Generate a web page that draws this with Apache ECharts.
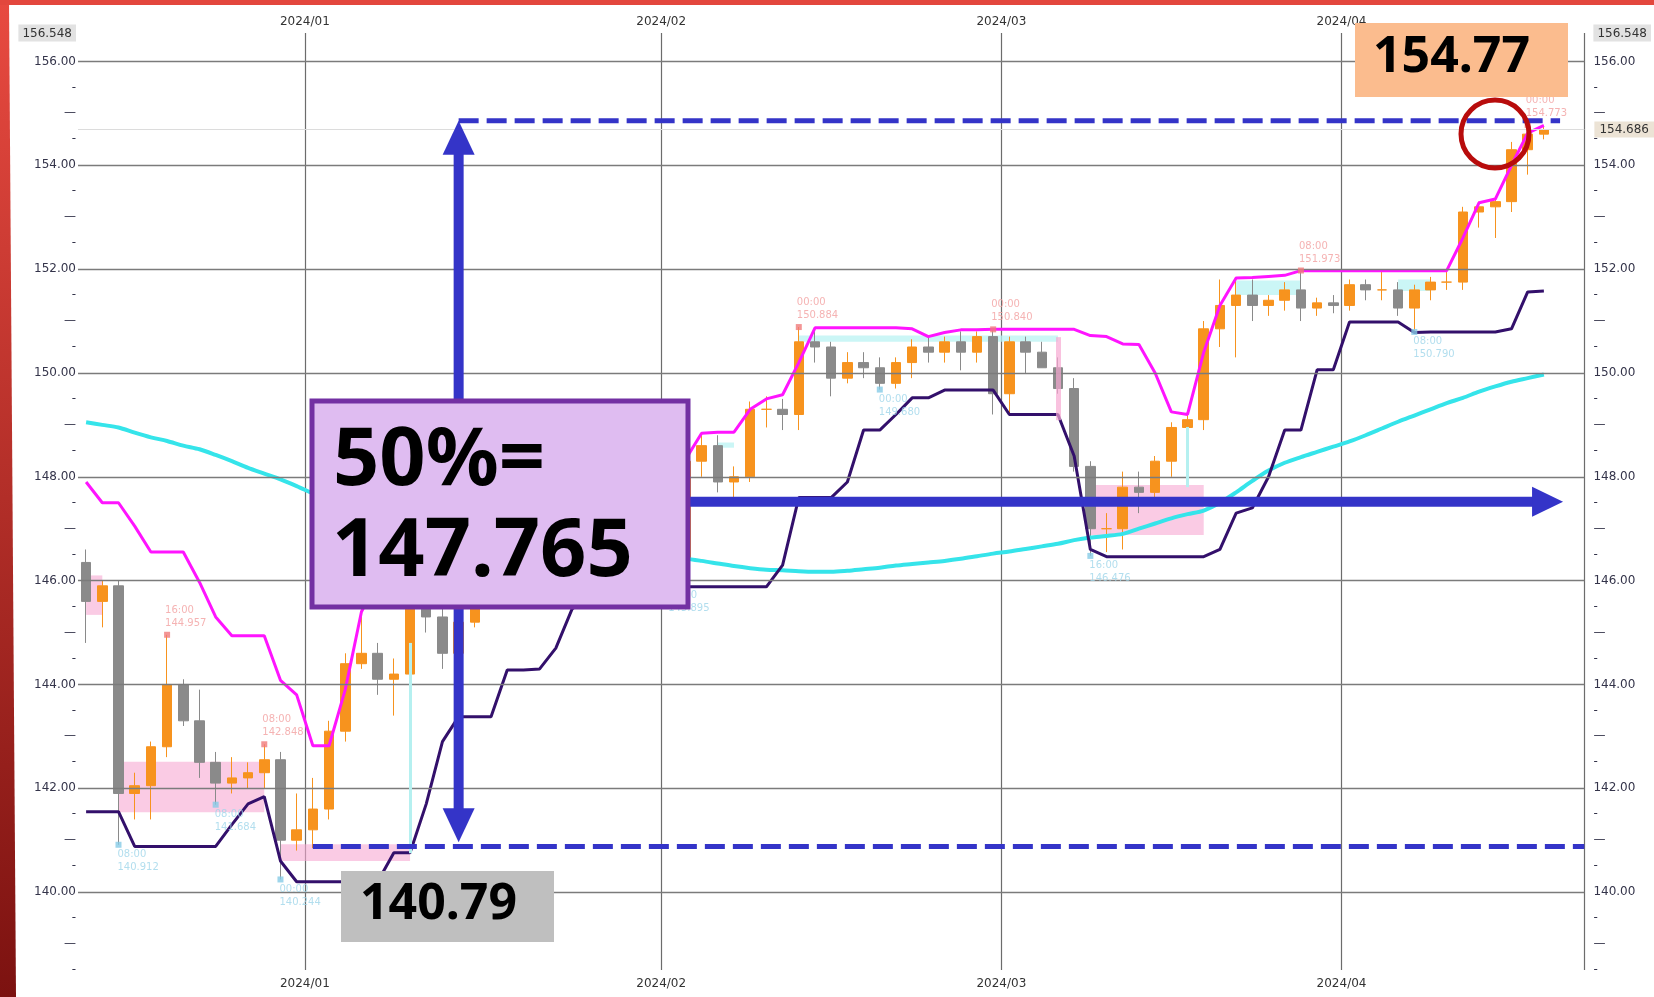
<!DOCTYPE html>
<html>
<head>
<meta charset="utf-8">
<script src="https://cdn.jsdelivr.net/npm/echarts/dist/echarts.min.js"></script>
</head>
<body style="margin:0;background:#fff">
<div id="container" style="width:1654px;height:997px"></div>
<script>
// trading days on the x axis (weekdays, holidays left out)
var decDays = [11,12,13,14,15,18,19,20,21,22,26,27,28,29];
var janDays = [2,3,4,5,8,9,10,11,12,15,16,17,18,19,22,23,24,25,26,29,30,31];
var febDays = [1,2,5,6,7,8,9,12,13,14,15,16,19,20,21,22,23,26,27,28,29];
var marDays = [1,4,5,6,7,8,11,12,13,14,15,18,19,20,21,22,25,26,27,28,29];
var aprDays = [1,2,3,4,5,8,9,10,11,12,15,16,17,18,19];

// daily prices
var opens = [146.35,145.6,145.9,141.9,142.05,142.8,144.0,143.3,142.5,142.1, 142.2,142.3,142.55,141.0,141.2,141.6,143.1,144.4,144.6,144.1, 144.2,145.5,145.3,144.6,145.2,147.2,148.1,148.0,148.2,148.1, 148.4,147.5,147.7,148.1,147.5,147.6,146.9,146.4,148.3,148.6, 147.9,148.0,149.3,149.3,149.2,150.6,150.5,149.9,150.2,150.1, 149.8,150.2,150.5,150.4,150.6,150.4,150.7,149.6,150.6,150.4, 150.1,149.7,148.2,147.0,147.0,147.8,147.7,148.3,148.95,149.1, 150.85,151.3,151.5,151.3,151.4,151.6,151.25,151.35,151.3,151.7, 151.6,151.6,151.25,151.6,151.75,151.75,153.1,153.2,153.3,154.3, 154.6];
var highs = [146.6,146.0,146.0,142.3,142.9,144.957,144.1,143.9,142.7,142.6, 142.5,142.848,142.7,141.9,142.2,143.3,144.6,145.95,144.8,144.5, 145.6,146.2,145.7,145.4,147.3,148.2,148.3,148.8,148.4,148.7, 148.7,147.9,148.2,148.3,147.9,147.9,147.0,148.35,148.85,148.8, 148.2,149.45,149.55,149.5,150.884,150.82,150.6,150.4,150.4,150.3, 150.3,150.65,150.7,150.7,150.8,150.8,150.84,150.7,150.7,150.6, 150.3,149.9,148.3,147.3,148.1,148.1,148.4,149.05,149.2,151.0, 151.8,151.85,151.8,151.5,151.75,151.973,151.45,151.5,151.8,151.8, 151.95,151.75,151.7,151.85,151.95,153.2,153.3,153.35,154.45,154.773, 154.75];
var lows = [144.8,145.1,140.912,141.4,141.4,142.6,143.2,142.2,141.684,141.9, 142.0,142.0,140.244,140.8,140.85,141.4,142.9,144.3,143.8,143.4, 143.9,145.0,144.3,144.4,145.1,147.0,147.6,147.8,147.6,147.0, 147.4,147.1,147.5,147.1,147.2,146.0,145.895,146.3,148.0,147.7, 147.6,147.9,148.95,148.9,148.9,150.2,149.55,149.8,149.9,149.68, 149.7,149.9,150.2,150.2,150.05,150.2,149.2,149.2,150.0,150.1, 149.6,148.1,146.476,146.55,146.6,147.3,147.5,148.0,148.9,148.9, 150.5,150.3,151.0,151.1,151.2,151.0,151.1,151.15,151.2,151.4, 151.4,151.1,150.79,151.4,151.6,151.6,152.8,152.6,153.1,153.82, 154.5];
var closes = [145.6,145.9,141.9,142.05,142.8,144.0,143.3,142.5,142.1,142.2, 142.3,142.55,141.0,141.2,141.6,143.1,144.4,144.6,144.1,144.2, 145.5,145.3,144.6,145.2,147.2,148.1,148.0,148.2,148.1,148.4, 147.5,147.7,148.1,147.5,147.6,146.9,146.4,148.3,148.6,147.9, 148.0,149.3,149.3,149.2,150.6,150.5,149.9,150.2,150.1,149.8, 150.2,150.5,150.4,150.6,150.4,150.7,149.6,150.6,150.4,150.1, 149.7,148.2,147.0,147.0,147.8,147.7,148.3,148.95,149.1,150.85, 151.3,151.5,151.3,151.4,151.6,151.25,151.35,151.3,151.7,151.6, 151.6,151.25,151.6,151.75,151.75,153.1,153.2,153.3,154.3,154.6, 154.686];

// indicator lines
var upperBand = [147.9,147.5,147.5,147.05,146.55,146.55,146.55,145.97,145.3,144.94, 144.94,144.94,144.08,143.8,142.82,142.82,143.9,145.4,146.0,146.0, 146.0,146.4,146.4,146.4,147.3,148.2,148.3,148.8,148.8,148.8, 148.8,148.8,148.6,148.4,148.3,148.2,148.2,148.33,148.84,148.86, 148.86,149.3,149.5,149.58,150.2,150.87,150.87,150.87,150.87,150.87, 150.87,150.85,150.7,150.78,150.83,150.83,150.84,150.84,150.84,150.84, 150.84,150.84,150.72,150.7,150.56,150.55,150.0,149.25,149.2,150.4, 151.3,151.83,151.84,151.86,151.88,151.97,151.97,151.97,151.97,151.97, 151.97,151.97,151.97,151.97,151.97,152.6,153.28,153.35,154.0,154.62, 154.77];
var lowerBand = [141.55,141.55,141.55,140.88,140.88,140.88,140.88,140.88,140.88,141.3, 141.7,141.84,140.6,140.2,140.2,140.2,140.2,140.2,140.2,140.76, 140.76,141.7,142.9,143.38,143.38,143.38,144.28,144.28,144.3,144.7, 145.45,145.7,145.88,145.88,145.88,145.88,145.88,145.88,145.88,145.88, 145.88,145.88,145.88,146.3,147.6,147.6,147.6,147.9,148.9,148.9, 149.2,149.52,149.52,149.67,149.67,149.67,149.67,149.2,149.2,149.2, 149.2,148.4,146.6,146.46,146.46,146.46,146.46,146.46,146.46,146.46, 146.6,147.3,147.4,148.0,148.9,148.9,150.06,150.06,150.98,150.98, 150.98,150.98,150.78,150.79,150.79,150.79,150.79,150.79,150.85,151.56, 151.58];
var movingAvg = [149.05,149.0,148.95,148.85,148.76,148.69,148.6,148.53,148.42,148.3, 148.17,148.06,147.95,147.82,147.68,147.55,147.42,147.3,147.2,147.1, 147.0,146.92,146.85,146.78,146.72,146.67,146.63,146.6,146.57,146.54, 146.52,146.5,146.48,146.46,146.45,146.44,146.43,146.42,146.38,146.33, 146.28,146.24,146.21,146.2,146.18,146.17,146.17,146.19,146.22,146.25, 146.29,146.32,146.35,146.38,146.42,146.47,146.52,146.56,146.61,146.66, 146.71,146.78,146.83,146.86,146.9,147.0,147.1,147.2,147.28,147.35, 147.5,147.7,147.92,148.12,148.27,148.38,148.48,148.58,148.68,148.8, 148.93,149.06,149.18,149.3,149.42,149.52,149.64,149.74,149.83,149.9, 149.97];

// marked highs and lows (category index, price, time)
var peakIdx = [5, 11, 44, 56, 75, 89];
var peakVal = [144.957, 142.848, 150.884, 150.840, 151.973, 154.773];
var peakTime = ['16:00','08:00','00:00','00:00','08:00','00:00'];
var troughIdx = [2, 8, 12, 36, 49, 62, 82];
var troughVal = [140.912, 141.684, 140.244, 145.895, 149.680, 146.476, 150.790];
var troughTime = ['08:00','08:00','00:00','00:00','00:00','16:00','08:00'];

// shaded boxes [from, to, top, bottom]
var pinkZones = [[0,1,146.1,145.34],[2,11,142.51,141.54],[12,20,140.92,140.6],[62,69,147.84,146.88]];
var cyanZones = [[44,60,150.72,150.6],[39,40,148.66,148.56],[71,75,151.78,151.5],[81,83,151.8,151.58]];
var cyanTicks = [[20,144.8,140.75],[68,148.96,147.8]];
var pinkTicks = [[60,150.69,149.09]];

var gridLevels = [140,142,144,146,148,150,152,154,156];
var axisMin = 138.5, axisMax = 156.548;
var lastPrice = 154.686;

// annotation levels
var highText = '154.77', lowText = '140.79', midText = '147.765';
var highLine = 154.86, lowLine = 140.88, lowArrowTip = 140.96, midArrow = 147.52;
var arrowCol = 23, lowDashFrom = 14, dashTo = 91, midArrowFrom = 30, midArrowTo = 91;

function pad(d) { return d < 10 ? '0' + d : '' + d; }
var cats = [];
decDays.forEach(function (d) { cats.push('2023/12/' + pad(d)); });
janDays.forEach(function (d) { cats.push('2024/01/' + pad(d)); });
febDays.forEach(function (d) { cats.push('2024/02/' + pad(d)); });
marDays.forEach(function (d) { cats.push('2024/03/' + pad(d)); });
aprDays.forEach(function (d) { cats.push('2024/04/' + pad(d)); });

function isMonthStart(i) {
    return i > 0 && cats[i].slice(5, 7) !== cats[i - 1].slice(5, 7);
}

var candles = opens.map(function (o, i) { return [o, closes[i], lows[i], highs[i]]; });

function yLabel(v) {
    if (v > 156.5) return '{max|' + v.toFixed(3) + '}';
    if (Math.abs(v - 156.5) < 1e-6) return '';
    var r = Math.round(v);
    if (Math.abs(v - r) < 1e-6) return (r % 2 === 0) ? v.toFixed(2) : '—';
    return '-';
}
var yLabelStyle = {
    formatter: yLabel, color: '#34344a', fontSize: 12, fontFamily: 'DejaVu Sans',
    rich: { max: { backgroundColor: '#e2e2e2', padding: [3, 4, 2, 4], color: '#333', fontSize: 12, fontFamily: 'DejaVu Sans' } }
};

var xAxisBase = {
    type: 'category', data: cats, boundaryGap: true,
    axisLine: { show: false }, axisTick: { show: false },
    axisLabel: {
        interval: function (i) { return isMonthStart(i); },
        formatter: function (v) { return v.slice(0, 7); },
        color: '#333', fontSize: 12, fontFamily: 'DejaVu Sans', padding: [0, 16, 0, 0]
    }
};

var dom = document.getElementById('container');
var chart = echarts.init(dom);

var option = {
    animation: false,
    backgroundColor: '#ffffff',
    grid: { left: 78, right: 65, top: 33, bottom: 27 },
    xAxis: [
        Object.assign({}, xAxisBase, {
            position: 'bottom',
            axisLabel: Object.assign({}, xAxisBase.axisLabel, { margin: 8 }),
            splitLine: { show: true, interval: function (i) { return isMonthStart(i); }, lineStyle: { color: '#6c6c6c', width: 1.2 } }
        }),
        Object.assign({}, xAxisBase, {
            position: 'top',
            axisLabel: Object.assign({}, xAxisBase.axisLabel, { margin: 5 }),
            splitLine: { show: false }
        })
    ],
    yAxis: [
        { type: 'value', position: 'left', min: axisMin, max: axisMax, interval: 0.5,
          axisLine: { show: false }, axisTick: { show: false }, splitLine: { show: false },
          axisLabel: Object.assign({ margin: 2 }, yLabelStyle) },
        { type: 'value', position: 'right', min: axisMin, max: axisMax, interval: 0.5,
          axisLine: { show: false }, axisTick: { show: false }, splitLine: { show: false },
          axisLabel: Object.assign({ margin: 9 }, yLabelStyle) }
    ],
    series: [
        {
            name: 'grid', type: 'line', data: [], z: 1, silent: true,
            markLine: {
                silent: true, symbol: 'none', label: { show: false },
                lineStyle: { color: '#7b7b7b', width: 1.3, type: 'solid' },
                data: gridLevels.map(function (v) { return { yAxis: v }; })
            }
        },
        {
            name: 'last', type: 'line', data: [], z: 1, silent: true,
            markLine: {
                silent: true, symbol: 'none',
                lineStyle: { color: '#dcdcdc', width: 1, type: 'solid' },
                label: { show: true, position: 'end', distance: 10, formatter: lastPrice.toFixed(3),
                         backgroundColor: '#ece3d5', padding: [2, 5], color: '#333', fontSize: 12, fontFamily: 'DejaVu Sans' },
                data: [{ yAxis: lastPrice }]
            }
        },
        {
            name: 'price', type: 'candlestick', data: candles, z: 2, barWidth: 10,
            itemStyle: { color: '#f7931e', color0: '#8a8a8a', borderColor: '#f7931e', borderColor0: '#8a8a8a', borderWidth: 1 }
        },
        {
            name: 'zones', type: 'line', data: [], z: 3, silent: true,
            markArea: {
                silent: true,
                data: pinkZones.map(function (z) {
                    return [{ coord: [z[0], z[2]], itemStyle: { color: 'rgba(246,168,210,0.6)' } }, { coord: [z[1], z[3]] }];
                }).concat(cyanZones.map(function (z) {
                    return [{ coord: [z[0], z[2]], itemStyle: { color: 'rgba(185,243,243,0.75)' } }, { coord: [z[1], z[3]] }];
                }))
            },
            markLine: {
                silent: true, symbol: 'none', label: { show: false },
                data: cyanTicks.map(function (t) {
                    return [{ coord: [t[0], t[1]], lineStyle: { color: '#b5f0f0', width: 3, type: 'solid' } }, { coord: [t[0], t[2]] }];
                }).concat(pinkTicks.map(function (t) {
                    return [{ coord: [t[0], t[1]], lineStyle: { color: 'rgba(246,168,210,0.7)', width: 5, type: 'solid' } }, { coord: [t[0], t[2]] }];
                }))
            }
        },
        { name: 'ma', type: 'line', data: movingAvg, z: 4, symbol: 'none', smooth: 0.3, lineStyle: { color: '#35e4ea', width: 4 } },
        { name: 'upper', type: 'line', data: upperBand, z: 4, symbol: 'none', lineStyle: { color: '#ff14ff', width: 3 } },
        { name: 'lower', type: 'line', data: lowerBand, z: 4, symbol: 'none', lineStyle: { color: '#33106b', width: 3 } },
        {
            name: 'peaks', type: 'scatter', z: 5, symbol: 'rect', symbolSize: 6,
            data: peakIdx.map(function (x, k) { return [x, peakVal[k]]; }),
            itemStyle: { color: '#f07a7a' },
            label: {
                show: true, position: [1, -28], color: '#f2a0a0', fontSize: 10, lineHeight: 13, fontFamily: 'DejaVu Sans',
                formatter: function (p) { return peakTime[p.dataIndex] + '\n' + peakVal[p.dataIndex].toFixed(3); }
            }
        },
        {
            name: 'troughs', type: 'scatter', z: 5, symbol: 'rect', symbolSize: 6,
            data: troughIdx.map(function (x, k) { return [x, troughVal[k]]; }),
            itemStyle: { color: '#86cbe6' },
            label: {
                show: true, position: [2, 6], color: '#9fd6ea', fontSize: 10, lineHeight: 13, fontFamily: 'DejaVu Sans',
                formatter: function (p) { return troughTime[p.dataIndex] + '\n' + troughVal[p.dataIndex].toFixed(3); }
            }
        }
    ]
};
chart.setOption(option);

// annotations drawn on top, placed through the axes
function px(i, v) { return chart.convertToPixel({ xAxisIndex: 0, yAxisIndex: 0 }, [i, v]); }
var blue = '#3434c8';
var g = [];

// frame
g.push({ type: 'polygon', z: 200, shape: { points: [[0, 0], [9, 0], [16, 997], [0, 997]] },
         style: { fill: new echarts.graphic.LinearGradient(0, 0, 0, 1, [{ offset: 0, color: '#e84a40' }, { offset: 1, color: '#7c1210' }]) } });
g.push({ type: 'rect', z: 200, shape: { x: 0, y: 0, width: 1654, height: 5 }, style: { fill: '#e3473d' } });

// dashed range lines
var hA = px(arrowCol, highLine), hB = px(dashTo, highLine);
g.push({ type: 'line', z: 100, shape: { x1: hA[0], y1: hA[1], x2: hB[0], y2: hB[1] }, style: { stroke: blue, lineWidth: 5, lineDash: [20, 8] } });
var lA = px(lowDashFrom, lowLine), lB = px(dashTo + 1, lowLine);
g.push({ type: 'line', z: 100, shape: { x1: lA[0], y1: lA[1], x2: lB[0] + 8, y2: lB[1] }, style: { stroke: blue, lineWidth: 5, lineDash: [20, 8] } });

// vertical double arrow
var vx = hA[0], vTop = hA[1], vBot = px(arrowCol, lowArrowTip)[1];
g.push({ type: 'line', z: 101, shape: { x1: vx, y1: vTop + 30, x2: vx, y2: vBot - 30 }, style: { stroke: blue, lineWidth: 10 } });
g.push({ type: 'polygon', z: 101, shape: { points: [[vx, vTop], [vx - 16, vTop + 34], [vx + 16, vTop + 34]] }, style: { fill: blue } });
g.push({ type: 'polygon', z: 101, shape: { points: [[vx, vBot], [vx - 16, vBot - 34], [vx + 16, vBot - 34]] }, style: { fill: blue } });

// horizontal arrow at the midpoint
var mA = px(midArrowFrom, midArrow), mB = px(midArrowTo, midArrow);
var tipX = mB[0] + 3;
g.push({ type: 'line', z: 101, shape: { x1: mA[0], y1: mA[1], x2: tipX - 28, y2: mA[1] }, style: { stroke: blue, lineWidth: 10 } });
g.push({ type: 'polygon', z: 101, shape: { points: [[tipX, mA[1]], [tipX - 31, mA[1] - 15], [tipX - 31, mA[1] + 15]] }, style: { fill: blue } });

// label boxes
g.push({ type: 'rect', z: 110, shape: { x: 312, y: 401, width: 376, height: 206 }, style: { fill: '#dfbcf1', stroke: '#7330a3', lineWidth: 5 } });
g.push({ type: 'text', z: 111, x: 333, y: 462, style: { text: '50%=', font: 'bold 81px "Noto Sans"', fill: '#000', verticalAlign: 'middle' } });
g.push({ type: 'text', z: 111, x: 332, y: 553, style: { text: midText, font: 'bold 81px "Noto Sans"', fill: '#000', verticalAlign: 'middle' } });

g.push({ type: 'rect', z: 110, shape: { x: 1355, y: 23, width: 213, height: 74 }, style: { fill: '#fbbc8e' } });
g.push({ type: 'text', z: 111, x: 1373, y: 58, style: { text: highText, font: 'bold 50px "Noto Sans"', fill: '#000', verticalAlign: 'middle' } });

g.push({ type: 'rect', z: 110, shape: { x: 341, y: 871, width: 213, height: 71 }, style: { fill: '#bfbfbf' } });
g.push({ type: 'text', z: 111, x: 360, y: 905, style: { text: lowText, font: 'bold 50px "Noto Sans"', fill: '#000', verticalAlign: 'middle' } });

// red circle around the high
g.push({ type: 'circle', z: 112, shape: { cx: 1495, cy: 134, r: 34 }, style: { fill: 'none', stroke: '#b80c0c', lineWidth: 5 } });

chart.setOption({ graphic: g });
</script>
</body>
</html>
